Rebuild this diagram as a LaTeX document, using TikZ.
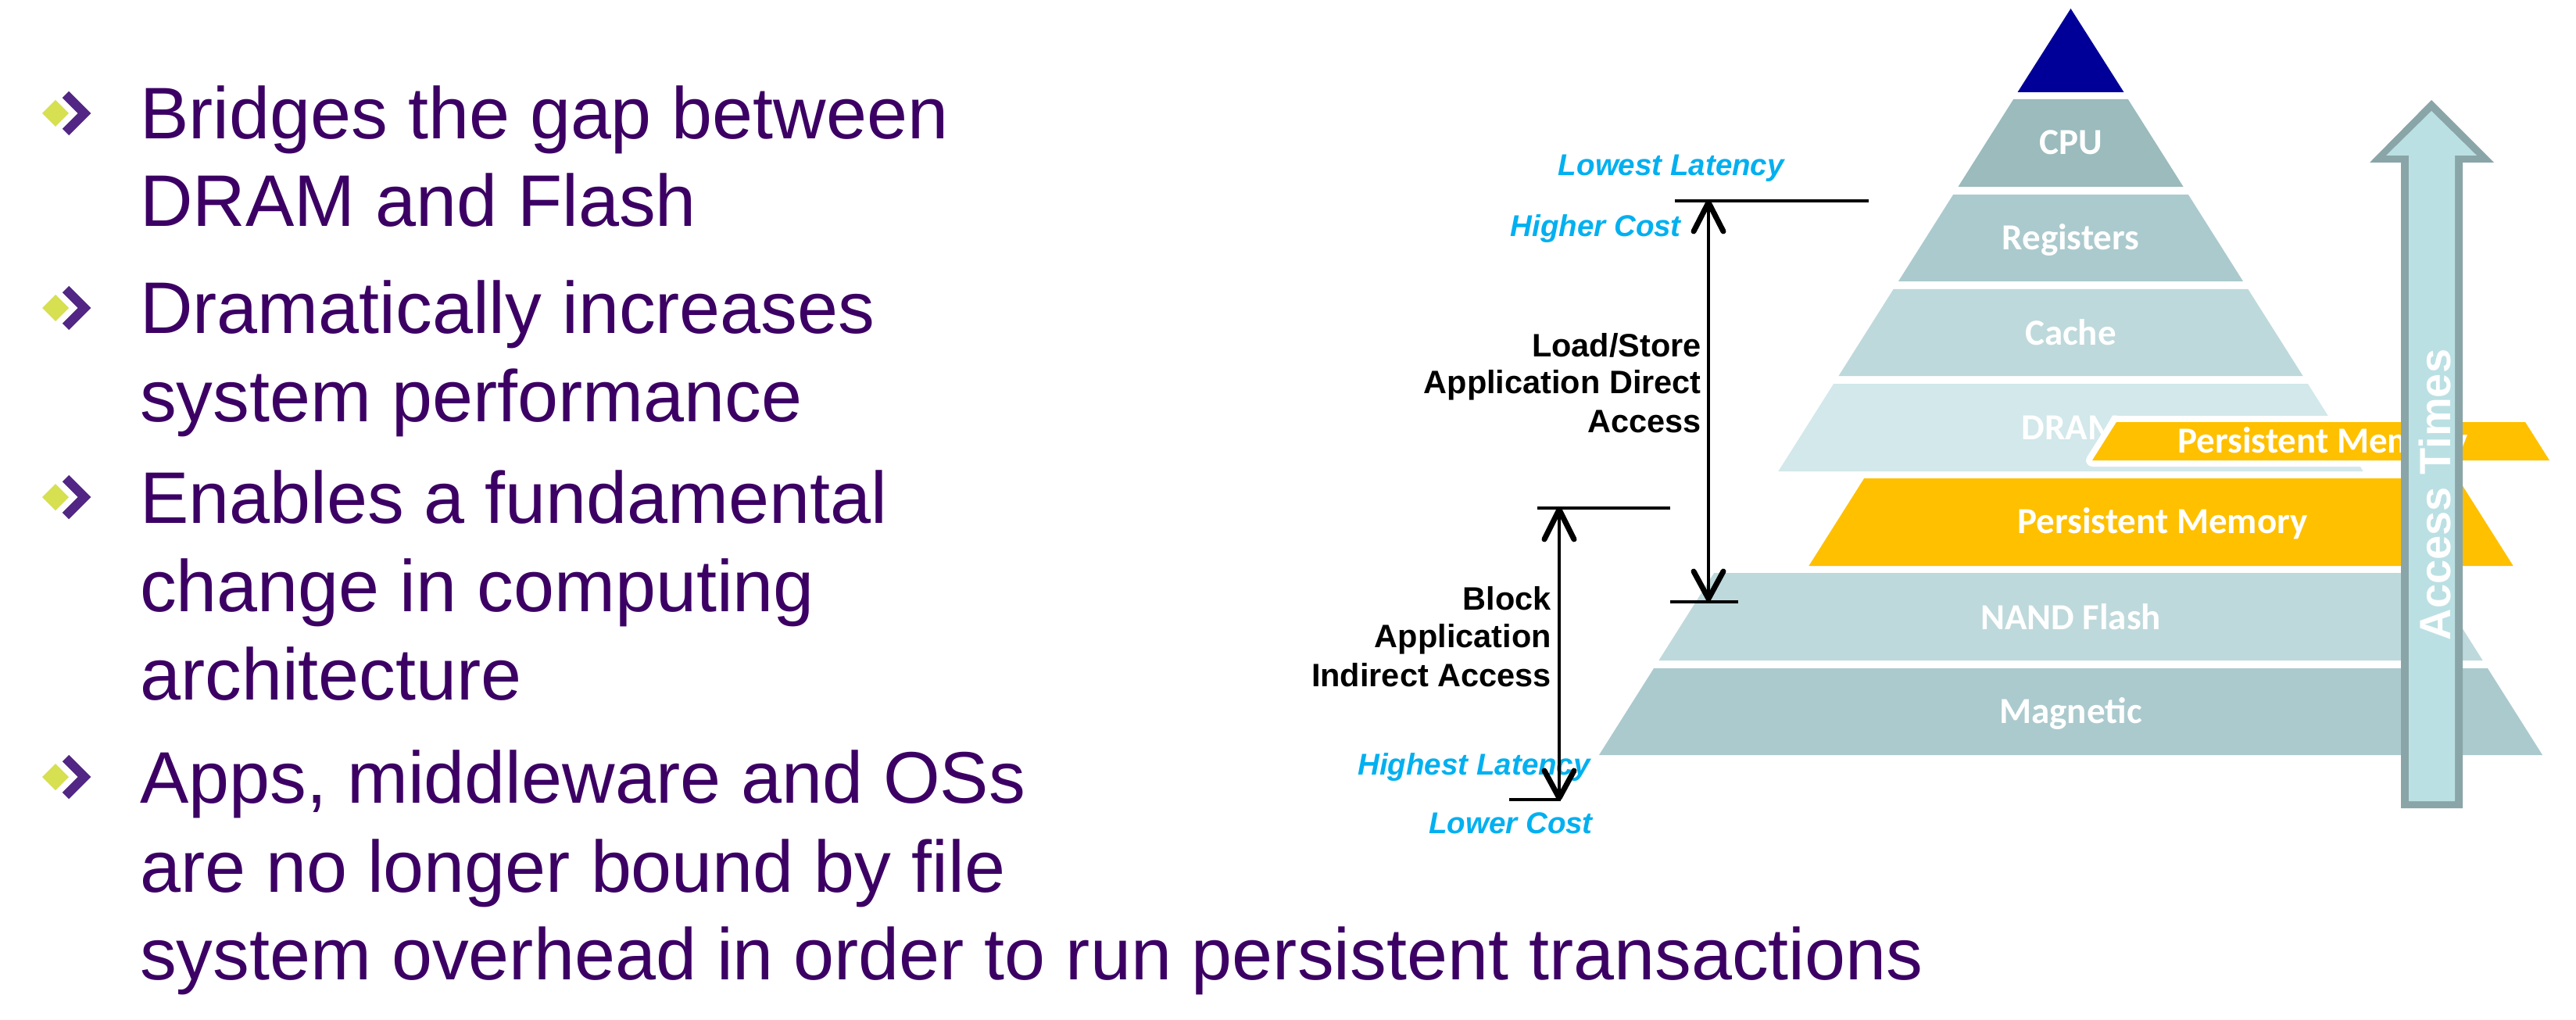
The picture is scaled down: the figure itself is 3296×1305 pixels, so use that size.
\documentclass[tikz,border=0pt]{standalone}
\usepackage{fontspec}
\setmainfont{Liberation Sans}
\newfontfamily\layerfont{Carlito}
\usetikzlibrary{calc}

\definecolor{txtpurple}{RGB}{60,0,100}
\definecolor{bulgreen}{RGB}{214,224,80}
\definecolor{bulpurple}{RGB}{82,38,132}
\definecolor{apexblue}{RGB}{0,0,153}
\definecolor{tierA}{RGB}{155,187,189}
\definecolor{tierB}{RGB}{171,202,205}
\definecolor{tierC}{RGB}{190,217,219}
\definecolor{tierD}{RGB}{210,232,234}
\definecolor{pmem}{RGB}{255,192,0}
\definecolor{latcyan}{RGB}{0,176,240}
\definecolor{arrowedge}{RGB}{138,165,168}
\definecolor{arrowfill}{RGB}{187,224,227}

% one band of the pyramid: top y, bottom y, centre x, colour
\newcommand\tier[4]{%
  \fill[#4] ({#3-0.632*(#1-11)},#1) -- ({#3+0.632*(#1-11)},#1)
    -- ({#3+0.632*(#2-11)},#2) -- ({#3-0.632*(#2-11)},#2) -- cycle;}

\tikzset{
  bullettext/.style={anchor=base west, inner sep=0pt, text=txtpurple,
    font=\fontsize{93.5}{112}\selectfont},
  tierlabel/.style={anchor=base, inner sep=0pt, text=white,
    font=\layerfont\bfseries\fontsize{47}{50}\selectfont},
  costlabel/.style={anchor=base east, inner sep=0pt, text=latcyan,
    font=\bfseries\itshape\fontsize{38.5}{44}\selectfont},
  accesslabel/.style={anchor=base east, inner sep=0pt, text=black,
    font=\bfseries\fontsize{41.5}{48}\selectfont},
  guide/.style={line width=4.5},
  barb/.style={line width=7, line cap=round, line join=round},
  bulletmark/.pic={
    \fill[bulgreen] (-17,0) -- (0,-17) -- (17,0) -- (0,17) -- cycle;
    \draw[bulpurple, line width=12, line join=miter] (13,-24) -- (37,0) -- (13,24);
  }
}

\begin{document}
\begin{tikzpicture}[x=1pt, y=-1pt]
\fill[white] (0,0) rectangle (3296,1305);
\useasboundingbox (0,0) rectangle (3296,1305);

% ---------- bullet list ----------
\pic at (71,145) {bulletmark};
\pic at (71,394) {bulletmark};
\pic at (71,636) {bulletmark};
\pic at (71,994) {bulletmark};
\node[bullettext] (b1a) at (179,178) {Bridges the gap between};
\node[bullettext] (b1b) at (179,290) {DRAM and Flash};
\node[bullettext] (b2a) at (179,427) {Dramatically increases};
\node[bullettext] (b2b) at (179,539) {system performance};
\node[bullettext] (b3a) at (179,669) {Enables a fundamental};
\node[bullettext] (b3b) at (179,782) {change in computing};
\node[bullettext] (b3c) at (179,895) {architecture};
\node[bullettext] (b4a) at (179,1027) {Apps, middleware and OSs};
\node[bullettext] (b4b) at (179,1141) {are no longer bound by file};
\node[bullettext] (b4c) at (179,1253) {system overhead in order to run persistent transactions};

% ---------- memory pyramid ----------
\fill[apexblue] (2649.5,11) -- (2717.5,118) -- (2581.5,118) -- cycle;
\tier{127}{239}{2649.5}{tierA}
\tier{249}{360}{2649.5}{tierB}
\tier{370}{481}{2649.5}{tierC}
\tier{491}{603}{2649.5}{tierD}
\tier{612}{724}{2765}{pmem}
\tier{733}{845}{2649.5}{tierC}
\tier{855}{966}{2649.5}{tierB}

\node[tierlabel] (cpu)   at (2649.5,198) {CPU};
\node[tierlabel] (regs)  at (2649.5,320) {Registers};
\node[tierlabel] (cache) at (2649.5,441) {Cache};
\node[tierlabel] (dram)  at (2649.5,562) {DRAM};
\node[tierlabel] (pm)    at (2767,682)   {Persistent Memory};
\node[tierlabel] (nand)  at (2649.5,805) {NAND Flash};
\node[tierlabel] (mag)   at (2649.5,925) {Magnetic};

% persistent memory band sliding in over DRAM
\draw[white, line width=16, line join=round]
  (2708,540) -- (3231,540) -- (3262,589) -- (2677,589) -- cycle;
\fill[pmem] (2708,540) -- (3231,540) -- (3262,589) -- (2677,589) -- cycle;
\node[tierlabel] (pmslide) at (2972,579) {Persistent Memory};

% access-time arrow
\fill[arrowedge] (3111,128) -- (3191,208) -- (3151,208) -- (3151,1034)
  -- (3072,1034) -- (3072,208) -- (3032,208) -- cycle;
\fill[arrowfill] (3111,142) -- (3169,199) -- (3141,199) -- (3141,1025)
  -- (3082,1025) -- (3082,199) -- (3053,199) -- cycle;
\node[anchor=base, inner sep=0pt, rotate=90, text=white,
  font=\bfseries\fontsize{56}{60}\selectfont] (atime) at (3135,633) {Access Times};

% ---------- latency / cost labels ----------
\node[costlabel] (lowlat)   at (2283,225)  {Lowest Latency};
\node[costlabel] (highcost) at (2151,303)  {Higher Cost};
\node[costlabel] (highlat)  at (2035,991)  {Highest Latency};
\node[costlabel] (lowcost)  at (2038,1066) {Lower Cost};

\node[accesslabel] (ls1) at (2177,456) {Load/Store};
\node[accesslabel] (ls2) at (2177,503) {Application Direct};
\node[accesslabel] (ls3) at (2177,553) {Access};
\node[accesslabel] (bk1) at (1985,780) {Block};
\node[accesslabel] (bk2) at (1985,828) {Application};
\node[accesslabel] (bk3) at (1985,878) {Indirect Access};

% ---------- range brackets ----------
\coordinate (topbarL) at (2143,257);
\coordinate (topbarR) at (2391,257);
\coordinate (lsTop)   at (2186,259);
\coordinate (lsBot)   at (2186,766);
\coordinate (midbarL) at (2137,770);
\coordinate (midbarR) at (2224,770);
\coordinate (blkbarL) at (1967,650);
\coordinate (blkbarR) at (2137,650);
\coordinate (bkTop)   at (1995,652);
\coordinate (bkBot)   at (1995,1021);
\coordinate (lowbarL) at (1931,1023);
\coordinate (lowbarR) at (1997,1023);

\draw[guide] (topbarL) -- (topbarR);
\draw[guide] (midbarL) -- (midbarR);
\draw[guide] (blkbarL) -- (blkbarR);
\draw[guide] (lowbarL) -- (lowbarR);
\draw[guide] (lsTop) -- (lsBot);
\draw[guide] (bkTop) -- (bkBot);

\draw[barb] ([shift={(-19,37)}]lsTop) -- (lsTop) -- ([shift={(19,37)}]lsTop);
\draw[barb] ([shift={(-19,-35)}]lsBot) -- (lsBot) -- ([shift={(19,-35)}]lsBot);
\draw[barb] ([shift={(-19,38)}]bkTop) -- (bkTop) -- ([shift={(19,38)}]bkTop);
\draw[barb] ([shift={(-19,-35)}]bkBot) -- (bkBot) -- ([shift={(19,-35)}]bkBot);
\end{tikzpicture}
\end{document}
